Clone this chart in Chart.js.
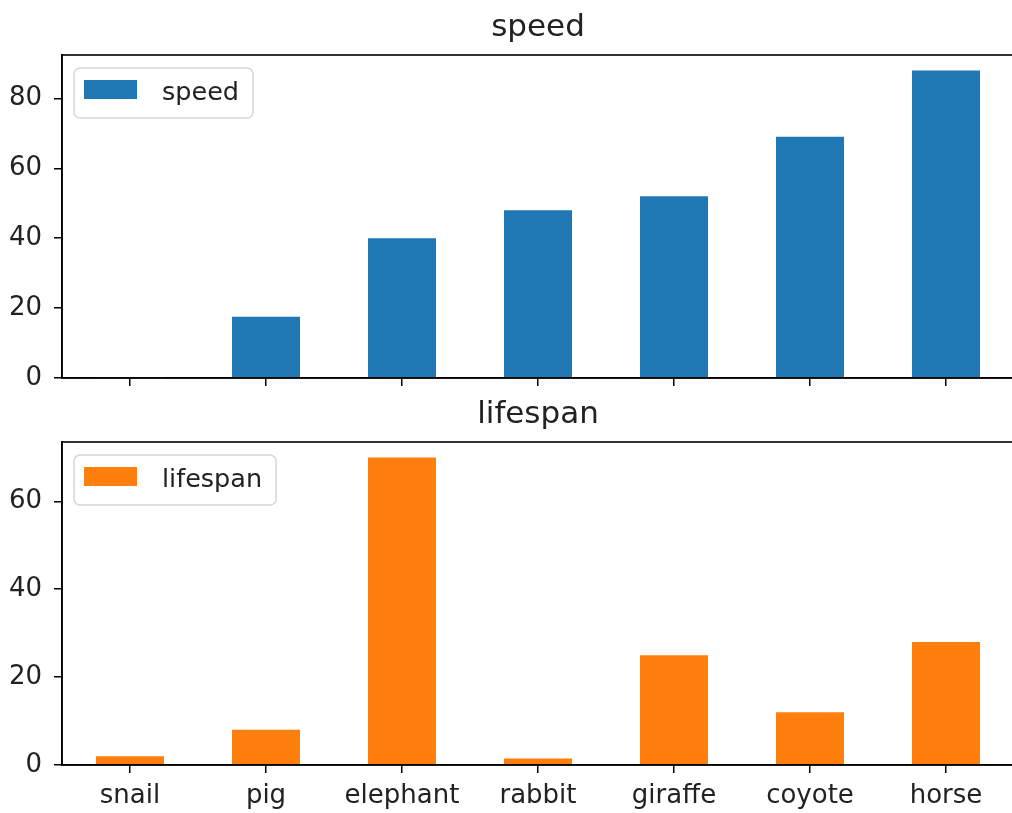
<!DOCTYPE html>
<html>
<head>
<meta charset="utf-8">
<script src="https://cdn.jsdelivr.net/npm/chart.js@4.4.1/dist/chart.umd.min.js"></script>
<style>
  html, body { margin: 0; padding: 0; background: #fff; overflow: hidden; width: 1012px; height: 813px; }
  canvas { position: absolute; left: 0; }
  #speedChart { top: 0; }
  #lifespanChart { top: 395px; }
</style>
</head>
<body>
<canvas id="speedChart" width="1016" height="408"></canvas>
<canvas id="lifespanChart" width="1016" height="418"></canvas>
<script>
const animals = ["snail", "pig", "elephant", "rabbit", "giraffe", "coyote", "horse"];
const speed = [0.1, 17.5, 40, 48, 52, 69, 88];
const lifespan = [2, 8, 70, 1.5, 25, 12, 28];

const FONT = '"DejaVu Sans", sans-serif';

// top and right spines (Chart.js only draws the axis borders)
const frame = {
  id: "frame",
  afterDraw(chart) {
    const { ctx, chartArea: a } = chart;
    ctx.save();
    ctx.strokeStyle = "#000";
    ctx.lineWidth = 1.6;
    ctx.strokeRect(a.left, a.top, a.right - a.left, a.bottom - a.top);
    ctx.restore();
  }
};

// title centred over the plot area, like matplotlib does
const areaTitle = {
  id: "areaTitle",
  afterDraw(chart, args, opts) {
    const { ctx, chartArea: a } = chart;
    ctx.save();
    ctx.font = "31px " + FONT;
    ctx.fillStyle = "#222";
    ctx.textAlign = "center";
    ctx.textBaseline = "alphabetic";
    ctx.fillText(opts.text, (a.left + a.right) / 2, a.top - opts.gap);
    ctx.restore();
  }
};

// matplotlib style legend box in the upper left corner
const legendBox = {
  id: "legendBox",
  afterDraw(chart) {
    const { ctx, chartArea: a } = chart;
    const ds = chart.data.datasets[0];
    ctx.save();
    ctx.font = "25.5px " + FONT;
    const tw = ctx.measureText(ds.label).width;
    const x = a.left + 12, y = a.top + 13;
    const w = 10 + 53 + 25 + tw + 14, h = 50;
    ctx.beginPath();
    ctx.roundRect(x, y, w, h, 6);
    ctx.fillStyle = "rgba(255,255,255,0.8)";
    ctx.fill();
    ctx.strokeStyle = "#d6d6d6";
    ctx.lineWidth = 1.5;
    ctx.stroke();
    ctx.fillStyle = ds.backgroundColor;
    ctx.fillRect(x + 10, y + 12, 53, 19);
    ctx.fillStyle = "#222";
    ctx.textBaseline = "middle";
    ctx.fillText(ds.label, x + 88, y + h / 2);
    ctx.restore();
  }
};

function makeChart(id, label, values, color, yMax, topPad, xHeight, showLabels) {
  const ctx = document.getElementById(id).getContext("2d");
  return new Chart(ctx, {
    type: "bar",
    data: {
      labels: animals,
      datasets: [{
        label: label,
        data: values,
        backgroundColor: color,
        barPercentage: 0.5,
        categoryPercentage: 1.0
      }]
    },
    options: {
      responsive: false,
      animation: false,
      layout: { padding: { left: 0, right: 2, top: topPad, bottom: 0 } },
      plugins: {
        legend: { display: false },
        tooltip: { enabled: false },
        title: { display: false },
        areaTitle: { text: label, gap: 19 }
      },
      scales: {
        x: {
          offset: true,
          grid: { display: true, drawOnChartArea: false, drawTicks: true, tickLength: 8, offset: false, color: "#000", lineWidth: 1.5 },
          border: { display: true, color: "#000", width: 1.6 },
          ticks: {
            display: showLabels,
            color: "#222",
            padding: 8,
            maxRotation: 0,
            font: { family: FONT, size: 26 }
          },
          afterFit(scale) { scale.height = xHeight; }
        },
        y: {
          min: 0,
          max: yMax,
          grid: { display: true, drawOnChartArea: false, drawTicks: true, tickLength: 8, color: "#000", lineWidth: 1.5 },
          border: { display: true, color: "#000", width: 1.6 },
          ticks: {
            stepSize: 20,
            color: "#222",
            padding: 12,
            font: { family: FONT, size: 26 }
          },
          afterBuildTicks(scale) {
            scale.ticks = scale.ticks.filter(t => t.value % 20 === 0);
          },
          afterFit(scale) { scale.width = 62; }
        }
      }
    },
    plugins: [frame, areaTitle, legendBox]
  });
}

makeChart("speedChart", "speed", speed, "#1f77b4", 92.4, 55, 30, false);
makeChart("lifespanChart", "lifespan", lifespan, "#ff7f0e", 73.5, 47, 48, true);
</script>
</body>
</html>
